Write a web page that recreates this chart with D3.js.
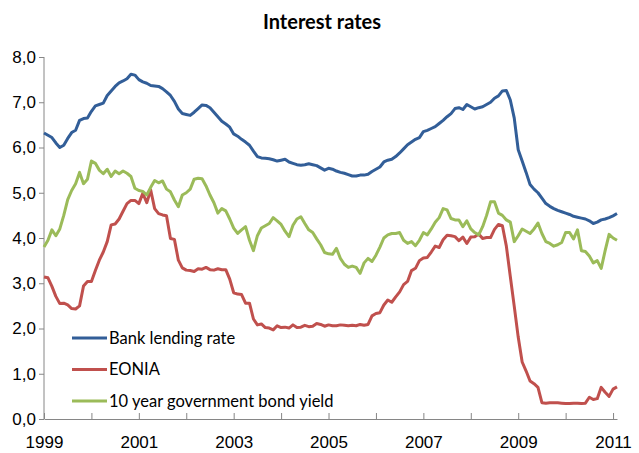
<!DOCTYPE html>
<html>
<head>
<meta charset="utf-8">
<script src="https://cdn.jsdelivr.net/npm/d3@7"></script>
<style>
  body { margin: 0; background: #fff; }
  svg { font-family: Lato, "Open Sans", sans-serif; }
  .axis path, .axis line { stroke: #868686; }
  .axis text { fill: #000; font-size: 17px; }
</style>
</head>
<body>
<div id="chart"></div>
<script>
// monthly data, Jan 1999 .. Feb 2011 (index 0 = Jan 1999)
const startYear = 1999;

const bankLending = [
  6.32, 6.27, 6.22, 6.10, 6.00, 6.05, 6.20, 6.33, 6.38, 6.60, 6.64, 6.65,
  6.80, 6.92, 6.95, 6.98, 7.15, 7.25, 7.35, 7.43, 7.47, 7.52, 7.62, 7.60,
  7.50, 7.45, 7.42, 7.37, 7.36, 7.35, 7.30, 7.23, 7.15, 7.02, 6.85, 6.75,
  6.73, 6.71, 6.78, 6.86, 6.94, 6.93, 6.88, 6.78, 6.68, 6.58, 6.52, 6.45,
  6.30, 6.25, 6.18, 6.12, 6.05, 5.92, 5.80, 5.77, 5.76, 5.75, 5.73, 5.70,
  5.72, 5.74, 5.68, 5.65, 5.62, 5.61, 5.62, 5.64, 5.62, 5.60, 5.55, 5.50,
  5.54, 5.52, 5.48, 5.45, 5.43, 5.40, 5.37, 5.37, 5.39, 5.39, 5.41, 5.47,
  5.52, 5.57, 5.68, 5.72, 5.74, 5.80, 5.88, 5.97, 6.06, 6.12, 6.18, 6.22,
  6.35, 6.38, 6.42, 6.46, 6.53, 6.60, 6.68, 6.75, 6.86, 6.88, 6.84, 6.95,
  6.90, 6.85, 6.88, 6.90, 6.95, 7.00, 7.09, 7.14, 7.25, 7.26, 7.05, 6.65,
  5.95, 5.70, 5.45, 5.18, 5.08, 5.00, 4.88, 4.76, 4.70, 4.65, 4.61, 4.58,
  4.55, 4.52, 4.48, 4.46, 4.44, 4.42, 4.38, 4.32, 4.35, 4.40, 4.42, 4.45,
  4.49, 4.54
];

const eonia = [
  3.14, 3.12, 2.93, 2.71, 2.55, 2.56, 2.52, 2.44, 2.43, 2.50, 2.94, 3.04,
  3.04, 3.28, 3.51, 3.69, 3.92, 4.29, 4.31, 4.42, 4.59, 4.76, 4.83, 4.83,
  4.76, 4.99, 4.78, 5.06, 4.65, 4.54, 4.51, 4.49, 3.99, 3.97, 3.51, 3.34,
  3.29, 3.28, 3.26, 3.32, 3.31, 3.35, 3.30, 3.29, 3.32, 3.30, 3.30, 3.09,
  2.79, 2.76, 2.75, 2.56, 2.56, 2.21, 2.08, 2.10, 2.02, 2.01, 1.97, 2.06,
  2.02, 2.03, 2.01, 2.08, 2.02, 2.03, 2.07, 2.04, 2.05, 2.11, 2.09, 2.05,
  2.08, 2.06, 2.06, 2.08, 2.07, 2.06, 2.07, 2.06, 2.09, 2.07, 2.09, 2.28,
  2.33, 2.35, 2.52, 2.63, 2.58, 2.70, 2.81, 2.97, 3.04, 3.28, 3.33, 3.50,
  3.56, 3.57, 3.69, 3.82, 3.79, 3.96, 4.06, 4.05, 4.03, 3.94, 4.02, 3.88,
  4.02, 4.03, 4.09, 3.99, 4.01, 4.01, 4.19, 4.30, 4.27, 3.82, 3.15, 2.49,
  1.81, 1.26, 1.06, 0.84, 0.78, 0.70, 0.36, 0.35, 0.36, 0.36, 0.36, 0.35,
  0.34, 0.34, 0.35, 0.35, 0.34, 0.35, 0.48, 0.43, 0.45, 0.70, 0.59, 0.50,
  0.66, 0.71
];

const bondYield = [
  3.80, 3.95, 4.18, 4.05, 4.20, 4.50, 4.85, 5.05, 5.20, 5.45, 5.20, 5.30,
  5.70, 5.65, 5.50, 5.42, 5.52, 5.36, 5.48, 5.42, 5.48, 5.43, 5.36, 5.10,
  5.05, 5.03, 4.95, 5.12, 5.27, 5.22, 5.26, 5.08, 5.02, 4.84, 4.69, 4.95,
  5.00, 5.08, 5.30, 5.32, 5.31, 5.15, 4.95, 4.78, 4.55, 4.65, 4.60, 4.42,
  4.22, 4.10, 4.18, 4.25, 3.95, 3.72, 4.05, 4.22, 4.27, 4.32, 4.45, 4.38,
  4.30, 4.15, 4.03, 4.28, 4.42, 4.47, 4.32, 4.18, 4.12, 3.98, 3.85, 3.68,
  3.65, 3.64, 3.77, 3.55, 3.42, 3.35, 3.38, 3.35, 3.22, 3.45, 3.55, 3.48,
  3.62, 3.80, 4.00, 4.07, 4.10, 4.10, 4.12, 3.95, 3.88, 3.92, 3.83, 3.95,
  4.12, 4.07, 4.20, 4.35, 4.45, 4.65, 4.62, 4.43, 4.40, 4.40, 4.25, 4.38,
  4.20, 4.12, 4.07, 4.25, 4.50, 4.80, 4.80, 4.55, 4.50, 4.40, 4.35, 3.92,
  4.05, 4.20, 4.15, 4.10, 4.20, 4.33, 4.10, 3.92, 3.88, 3.82, 3.85, 3.90,
  4.12, 4.12, 3.98, 4.18, 3.72, 3.70, 3.60, 3.45, 3.50, 3.33, 3.72, 4.08,
  4.00, 3.95
];

const seriesNames = ["Bank lending rate", "EONIA", "10 year government bond yield"];
const seriesColors = ["#325E98", "#C0504D", "#9BBB59"];
const yTicks = [0, 1, 2, 3, 4, 5, 6, 7, 8];
const xLabelYears = [1999, 2001, 2003, 2005, 2007, 2009, 2011];

const W = 639, H = 453;
const margin = {top: 57, right: 22, bottom: 34, left: 44};

const svg = d3.select("#chart").append("svg")
  .attr("width", W).attr("height", H);

const x = d3.scaleLinear()
  .domain([0, bankLending.length - 1])
  .range([margin.left, W - margin.right]);

const y = d3.scaleLinear()
  .domain([0, 8])
  .range([H - margin.bottom, margin.top]);

// title
svg.append("text")
  .attr("x", 322).attr("y", 29)
  .attr("text-anchor", "middle")
  .attr("font-size", "20px")
  .attr("font-weight", "bold")
  .text("Interest rates");

// y axis
const yAxis = svg.append("g").attr("class", "axis")
  .attr("transform", `translate(${margin.left},0)`)
  .call(d3.axisLeft(y).tickValues(yTicks).tickSize(5).tickPadding(3)
    .tickFormat(d => d3.format(".1f")(d).replace(".", ",")));

// x axis: tick each January, label every second year
const yearTicks = d3.range(0, bankLending.length, 12);
const xAxis = svg.append("g").attr("class", "axis")
  .attr("transform", `translate(0,${y(0)})`)
  .call(d3.axisBottom(x).tickValues(yearTicks).tickSizeInner(-6).tickSizeOuter(0)
    .tickFormat(m => {
      const yr = startYear + m / 12;
      return xLabelYears.includes(yr) ? yr : "";
    }));
xAxis.selectAll("text").attr("y", 17).attr("dy", "0.71em");
yAxis.select(".domain").attr("d", `M0,${y(8)}V${y(0)}`);

// lines
const line = d3.line()
  .x((d, i) => x(i))
  .y(d => y(d));

const allSeries = [bankLending, eonia, bondYield];

svg.append("g").selectAll("path")
  .data(allSeries)
  .join("path")
  .attr("fill", "none")
  .attr("stroke", (d, i) => seriesColors[i])
  .attr("stroke-width", 3)
  .attr("stroke-linejoin", "round")
  .attr("d", line);

// legend
const legend = svg.append("g").attr("transform", "translate(72,338)");
const items = legend.selectAll("g")
  .data(seriesNames)
  .join("g")
  .attr("transform", (d, i) => `translate(0,${i * 31.5})`);

items.append("line")
  .attr("x1", 0).attr("x2", 35)
  .attr("stroke", (d, i) => seriesColors[i])
  .attr("stroke-width", 3);

items.append("text")
  .attr("x", 37).attr("dy", "0.36em")
  .attr("font-size", "16.5px")
  .text(d => d);
</script>
</body>
</html>
